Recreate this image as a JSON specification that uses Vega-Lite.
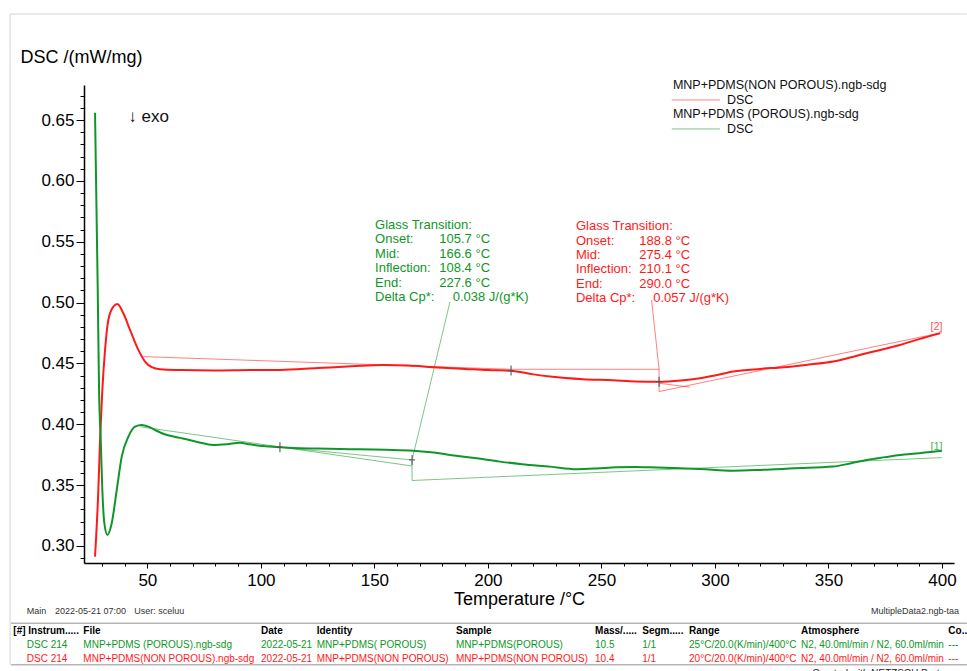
{
  "$schema": "https://vega.github.io/schema/vega-lite/v6.json",
  "width": 870,
  "height": 478,
  "autosize": {"type": "none"},
  "padding": {"left": 84, "top": 85, "right": 13, "bottom": 108},
  "background": "white",
  "config": {
    "font": "Liberation Sans",
    "view": {"stroke": null},
    "axis": {"labelFont": "Liberation Sans", "titleFont": "Liberation Sans", "labelColor": "black", "titleColor": "black", "tickColor": "black", "domainColor": "black", "grid": false}
  },
  "datasets": {
    "curves": [
      {"sample": "NON POROUS", "t": 26.96, "v": 0.2912},
      {"sample": "NON POROUS", "t": 28.42, "v": 0.346},
      {"sample": "NON POROUS", "t": 29.17, "v": 0.3871},
      {"sample": "NON POROUS", "t": 30.18, "v": 0.4282},
      {"sample": "NON POROUS", "t": 31.37, "v": 0.4611},
      {"sample": "NON POROUS", "t": 32.82, "v": 0.4857},
      {"sample": "NON POROUS", "t": 35.02, "v": 0.4966},
      {"sample": "NON POROUS", "t": 36.79, "v": 0.4989},
      {"sample": "NON POROUS", "t": 39.43, "v": 0.4912},
      {"sample": "NON POROUS", "t": 42.38, "v": 0.4775},
      {"sample": "NON POROUS", "t": 46.03, "v": 0.4611},
      {"sample": "NON POROUS", "t": 48.99, "v": 0.4515},
      {"sample": "NON POROUS", "t": 51.94, "v": 0.4469},
      {"sample": "NON POROUS", "t": 55.6, "v": 0.4452},
      {"sample": "NON POROUS", "t": 65, "v": 0.4445},
      {"sample": "NON POROUS", "t": 78.9, "v": 0.4441},
      {"sample": "NON POROUS", "t": 95.2, "v": 0.4445},
      {"sample": "NON POROUS", "t": 108.4, "v": 0.4446},
      {"sample": "NON POROUS", "t": 125, "v": 0.4462},
      {"sample": "NON POROUS", "t": 140, "v": 0.4476},
      {"sample": "NON POROUS", "t": 153.9, "v": 0.4487},
      {"sample": "NON POROUS", "t": 165, "v": 0.4482},
      {"sample": "NON POROUS", "t": 175.8, "v": 0.4469},
      {"sample": "NON POROUS", "t": 190, "v": 0.4455},
      {"sample": "NON POROUS", "t": 200, "v": 0.4445},
      {"sample": "NON POROUS", "t": 210, "v": 0.444},
      {"sample": "NON POROUS", "t": 220, "v": 0.441},
      {"sample": "NON POROUS", "t": 227.4, "v": 0.4392},
      {"sample": "NON POROUS", "t": 241.9, "v": 0.437},
      {"sample": "NON POROUS", "t": 255, "v": 0.4362},
      {"sample": "NON POROUS", "t": 265, "v": 0.4352},
      {"sample": "NON POROUS", "t": 275, "v": 0.435},
      {"sample": "NON POROUS", "t": 285, "v": 0.436},
      {"sample": "NON POROUS", "t": 293.4, "v": 0.4378},
      {"sample": "NON POROUS", "t": 300, "v": 0.44},
      {"sample": "NON POROUS", "t": 308.1, "v": 0.4433},
      {"sample": "NON POROUS", "t": 320, "v": 0.4455},
      {"sample": "NON POROUS", "t": 330.1, "v": 0.4469},
      {"sample": "NON POROUS", "t": 340, "v": 0.4488},
      {"sample": "NON POROUS", "t": 352.1, "v": 0.4515},
      {"sample": "NON POROUS", "t": 360, "v": 0.455},
      {"sample": "NON POROUS", "t": 366.8, "v": 0.4584},
      {"sample": "NON POROUS", "t": 375, "v": 0.462},
      {"sample": "NON POROUS", "t": 381.5, "v": 0.4652},
      {"sample": "NON POROUS", "t": 390, "v": 0.47},
      {"sample": "NON POROUS", "t": 399.1, "v": 0.4748},
      {"sample": "POROUS", "t": 26.96, "v": 0.656},
      {"sample": "POROUS", "t": 28.15, "v": 0.5104},
      {"sample": "POROUS", "t": 28.73, "v": 0.4282},
      {"sample": "POROUS", "t": 29.47, "v": 0.3871},
      {"sample": "POROUS", "t": 30.18, "v": 0.346},
      {"sample": "POROUS", "t": 31.06, "v": 0.3187},
      {"sample": "POROUS", "t": 32.38, "v": 0.3091},
      {"sample": "POROUS", "t": 34.31, "v": 0.3187},
      {"sample": "POROUS", "t": 36.52, "v": 0.346},
      {"sample": "POROUS", "t": 38.72, "v": 0.3734},
      {"sample": "POROUS", "t": 41.63, "v": 0.3898},
      {"sample": "POROUS", "t": 44.58, "v": 0.3981},
      {"sample": "POROUS", "t": 47.53, "v": 0.3994},
      {"sample": "POROUS", "t": 50.44, "v": 0.3981},
      {"sample": "POROUS", "t": 53.39, "v": 0.3953},
      {"sample": "POROUS", "t": 57, "v": 0.3922},
      {"sample": "POROUS", "t": 64.4, "v": 0.3888},
      {"sample": "POROUS", "t": 72, "v": 0.3855},
      {"sample": "POROUS", "t": 78.9, "v": 0.383},
      {"sample": "POROUS", "t": 85, "v": 0.3836},
      {"sample": "POROUS", "t": 90.8, "v": 0.3848},
      {"sample": "POROUS", "t": 95.2, "v": 0.3835},
      {"sample": "POROUS", "t": 108.4, "v": 0.3811},
      {"sample": "POROUS", "t": 125, "v": 0.38},
      {"sample": "POROUS", "t": 139.3, "v": 0.3795},
      {"sample": "POROUS", "t": 155, "v": 0.379},
      {"sample": "POROUS", "t": 167.1, "v": 0.3783},
      {"sample": "POROUS", "t": 175, "v": 0.377},
      {"sample": "POROUS", "t": 183.3, "v": 0.3748},
      {"sample": "POROUS", "t": 195, "v": 0.372},
      {"sample": "POROUS", "t": 205.3, "v": 0.3693},
      {"sample": "POROUS", "t": 215, "v": 0.3672},
      {"sample": "POROUS", "t": 227.4, "v": 0.3652},
      {"sample": "POROUS", "t": 239.1, "v": 0.3631},
      {"sample": "POROUS", "t": 248, "v": 0.3637},
      {"sample": "POROUS", "t": 256.7, "v": 0.3647},
      {"sample": "POROUS", "t": 265, "v": 0.3648},
      {"sample": "POROUS", "t": 271.4, "v": 0.3647},
      {"sample": "POROUS", "t": 282, "v": 0.364},
      {"sample": "POROUS", "t": 293.4, "v": 0.3633},
      {"sample": "POROUS", "t": 307.9, "v": 0.3619},
      {"sample": "POROUS", "t": 320, "v": 0.3625},
      {"sample": "POROUS", "t": 335, "v": 0.3638},
      {"sample": "POROUS", "t": 352, "v": 0.3652},
      {"sample": "POROUS", "t": 360, "v": 0.368},
      {"sample": "POROUS", "t": 367, "v": 0.3707},
      {"sample": "POROUS", "t": 375, "v": 0.373},
      {"sample": "POROUS", "t": 381.5, "v": 0.3748},
      {"sample": "POROUS", "t": 390, "v": 0.3762},
      {"sample": "POROUS", "t": 396, "v": 0.3775},
      {"sample": "POROUS", "t": 399.9, "v": 0.3783}
    ],
    "tangents": [
      {"sample": "NON POROUS", "t": 48.2, "v": 0.4556, "t2": 209.7, "v2": 0.4452},
      {"sample": "NON POROUS", "t": 209.7, "v": 0.4452, "t2": 275.4, "v2": 0.4452},
      {"sample": "NON POROUS", "t": 275.4, "v": 0.4452, "t2": 275.4, "v2": 0.4269},
      {"sample": "NON POROUS", "t": 275.4, "v": 0.4269, "t2": 400, "v2": 0.4753},
      {"sample": "NON POROUS", "t": 275.4, "v": 0.4337, "t2": 289, "v2": 0.4305},
      {"sample": "NON POROUS", "t": 272.1, "v": 0.5022, "t2": 275.4, "v2": 0.4452},
      {"sample": "POROUS", "t": 46.8, "v": 0.398, "t2": 166.6, "v2": 0.3657},
      {"sample": "POROUS", "t": 108.4, "v": 0.3811, "t2": 166.6, "v2": 0.3707},
      {"sample": "POROUS", "t": 166.6, "v": 0.3707, "t2": 166.6, "v2": 0.3538},
      {"sample": "POROUS", "t": 166.6, "v": 0.3538, "t2": 400, "v2": 0.3726},
      {"sample": "POROUS", "t": 183.3, "v": 0.5005, "t2": 166.6, "v2": 0.3707}
    ],
    "markers": [
      {"sample": "POROUS", "t": 108.4, "v": 0.3811},
      {"sample": "POROUS", "t": 166.6, "v": 0.3707},
      {"sample": "NON POROUS", "t": 210.2, "v": 0.4441},
      {"sample": "NON POROUS", "t": 275.4, "v": 0.435}
    ],
    "notes": [
      {"sample": "POROUS", "t": 150.3, "v": 0.5638, "text": "Glass Transition:"},
      {"sample": "POROUS", "t": 150.3, "v": 0.552, "text": "Onset:"},
      {"sample": "POROUS", "t": 150.3, "v": 0.5401, "text": "Mid:"},
      {"sample": "POROUS", "t": 150.3, "v": 0.5283, "text": "Inflection:"},
      {"sample": "POROUS", "t": 150.3, "v": 0.5165, "text": "End:"},
      {"sample": "POROUS", "t": 150.3, "v": 0.5046, "text": "Delta Cp*:"},
      {"sample": "POROUS", "t": 178.6, "v": 0.552, "text": "105.7 °C"},
      {"sample": "POROUS", "t": 178.6, "v": 0.5401, "text": "166.6 °C"},
      {"sample": "POROUS", "t": 178.6, "v": 0.5283, "text": "108.4 °C"},
      {"sample": "POROUS", "t": 178.6, "v": 0.5165, "text": "227.6 °C"},
      {"sample": "POROUS", "t": 184.5, "v": 0.5046, "text": "0.038 J/(g*K)"},
      {"sample": "NON POROUS", "t": 238.8, "v": 0.563, "text": "Glass Transition:"},
      {"sample": "NON POROUS", "t": 238.8, "v": 0.551, "text": "Onset:"},
      {"sample": "NON POROUS", "t": 238.8, "v": 0.5391, "text": "Mid:"},
      {"sample": "NON POROUS", "t": 238.8, "v": 0.5272, "text": "Inflection:"},
      {"sample": "NON POROUS", "t": 238.8, "v": 0.5153, "text": "End:"},
      {"sample": "NON POROUS", "t": 238.8, "v": 0.5034, "text": "Delta Cp*:"},
      {"sample": "NON POROUS", "t": 266.7, "v": 0.551, "text": "188.8 °C"},
      {"sample": "NON POROUS", "t": 266.7, "v": 0.5391, "text": "275.4 °C"},
      {"sample": "NON POROUS", "t": 266.7, "v": 0.5272, "text": "210.1 °C"},
      {"sample": "NON POROUS", "t": 266.7, "v": 0.5153, "text": "290.0 °C"},
      {"sample": "NON POROUS", "t": 272.8, "v": 0.5034, "text": "0.057 J/(g*K)"}
    ],
    "legendText": [
      {"t": 281.5, "v": 0.6788, "text": "MNP+PDMS(NON POROUS).ngb-sdg"},
      {"t": 305.3, "v": 0.6665, "text": "DSC"},
      {"t": 281.5, "v": 0.6552, "text": "MNP+PDMS (POROUS).ngb-sdg"},
      {"t": 305.3, "v": 0.6427, "text": "DSC"}
    ],
    "legendLines": [
      {"sample": "NON POROUS", "t": 281.0, "t2": 302.2, "v": 0.6665},
      {"sample": "POROUS", "t": 281.0, "t2": 302.2, "v": 0.6427}
    ],
    "curveTags": [
      {"sample": "NON POROUS", "t": 397.6, "v": 0.4797, "text": "[2]"},
      {"sample": "POROUS", "t": 397.6, "v": 0.3816, "text": "[1]"}
    ],
    "exo": [
      {"t": 41.6, "v": 0.6528, "text": "↓ exo"}
    ],
    "frame": [
      {"t": -10.47, "v": 0.7371, "t2": 411, "v2": 0.7371},
      {"t": -10.47, "v": 0.7371, "t2": -10.47, "v2": 0.2023}
    ],
    "tableLines": [
      {"t": -10.03, "v": 0.2365, "t2": 411, "v2": 0.2365},
      {"t": -10.03, "v": 0.2023, "t2": 411, "v2": 0.2023}
    ],
    "tableHeader": [
      {"t": -9.02, "v": 0.2302, "text": "[#] Instrum....."},
      {"t": 21.81, "v": 0.2302, "text": "File"},
      {"t": 100.07, "v": 0.2302, "text": "Date"},
      {"t": 124.6, "v": 0.2302, "text": "Identity"},
      {"t": 185.95, "v": 0.2302, "text": "Sample"},
      {"t": 247.2, "v": 0.2302, "text": "Mass/....."},
      {"t": 268.0, "v": 0.2302, "text": "Segm....."},
      {"t": 288.6, "v": 0.2302, "text": "Range"},
      {"t": 337.9, "v": 0.2302, "text": "Atmosphere"},
      {"t": 402.8, "v": 0.2302, "text": "Co.."}
    ],
    "tableRows": [
      {"sample": "POROUS", "t": -3.12, "v": 0.2187, "text": "DSC 214"},
      {"sample": "POROUS", "t": 21.81, "v": 0.2187, "text": "MNP+PDMS (POROUS).ngb-sdg"},
      {"sample": "POROUS", "t": 100.07, "v": 0.2187, "text": "2022-05-21"},
      {"sample": "POROUS", "t": 124.6, "v": 0.2187, "text": "MNP+PDMS( POROUS)"},
      {"sample": "POROUS", "t": 185.95, "v": 0.2187, "text": "MNP+PDMS(POROUS)"},
      {"sample": "POROUS", "t": 247.2, "v": 0.2187, "text": "10.5"},
      {"sample": "POROUS", "t": 268.0, "v": 0.2187, "text": "1/1"},
      {"sample": "POROUS", "t": 288.6, "v": 0.2187, "text": "25°C/20.0(K/min)/400°C"},
      {"sample": "POROUS", "t": 337.9, "v": 0.2187, "text": "N2, 40.0ml/min / N2, 60.0ml/min"},
      {"sample": "POROUS", "t": 402.8, "v": 0.2187, "text": "---"},
      {"sample": "NON POROUS", "t": -3.12, "v": 0.2072, "text": "DSC 214"},
      {"sample": "NON POROUS", "t": 21.81, "v": 0.2072, "text": "MNP+PDMS(NON POROUS).ngb-sdg"},
      {"sample": "NON POROUS", "t": 100.07, "v": 0.2072, "text": "2022-05-21"},
      {"sample": "NON POROUS", "t": 124.6, "v": 0.2072, "text": "MNP+PDMS(NON POROUS)"},
      {"sample": "NON POROUS", "t": 185.95, "v": 0.2072, "text": "MNP+PDMS(NON POROUS)"},
      {"sample": "NON POROUS", "t": 247.2, "v": 0.2072, "text": "10.4"},
      {"sample": "NON POROUS", "t": 268.0, "v": 0.2072, "text": "1/1"},
      {"sample": "NON POROUS", "t": 288.6, "v": 0.2072, "text": "20°C/20.0(K/min)/400°C"},
      {"sample": "NON POROUS", "t": 337.9, "v": 0.2072, "text": "N2, 40.0ml/min / N2, 60.0ml/min"},
      {"sample": "NON POROUS", "t": 402.8, "v": 0.2072, "text": "---"}
    ],
    "metaLeft": [
      {"t": -3.12, "v": 0.2469, "text": "Main"},
      {"t": 9.35, "v": 0.2469, "text": "2022-05-21 07:00"},
      {"t": 44.27, "v": 0.2469, "text": "User: sceluu"}
    ],
    "metaRight": [
      {"t": 407.5, "v": 0.2469, "text": "MultipleData2.ngb-taa"}
    ],
    "footer": [
      {"t": 342.6, "v": 0.1949, "text": "Created with NETZSCH Proteus software"}
    ]
  },
  "resolve": {"axis": {"x": "independent", "y": "independent"}},
  "layer": [
    {
      "data": {"name": "frame"},
      "mark": {"type": "rule", "color": "#d4d4d4", "strokeWidth": 1},
      "encoding": {
        "x": {"field": "t", "type": "quantitative", "axis": null},
        "x2": {"field": "t2"},
        "y": {"field": "v", "type": "quantitative", "axis": null},
        "y2": {"field": "v2"}
      }
    },
    {
      "data": {"name": "tableLines"},
      "mark": {"type": "rule", "color": "#b5b5b5", "strokeWidth": 1.5},
      "encoding": {
        "x": {"field": "t", "type": "quantitative", "axis": null},
        "x2": {"field": "t2"},
        "y": {"field": "v", "type": "quantitative", "axis": null},
        "y2": {"field": "v2"}
      }
    },
    {
      "data": {"name": "tangents"},
      "mark": {"type": "rule", "strokeWidth": 1, "opacity": 0.55},
      "encoding": {
        "x": {"field": "t", "type": "quantitative", "axis": null},
        "x2": {"field": "t2"},
        "y": {"field": "v", "type": "quantitative", "axis": null},
        "y2": {"field": "v2"},
        "color": {"field": "sample", "type": "nominal", "legend": null}
      }
    },
    {
      "data": {"name": "curves"},
      "transform": [{"filter": "datum.sample === 'NON POROUS'"}],
      "mark": {"type": "line", "strokeWidth": 2, "interpolate": "monotone"},
      "encoding": {
        "x": {
          "field": "t", "type": "quantitative",
          "scale": {"domain": [22.1, 405.3], "nice": false, "zero": false},
          "axis": {
            "orient": "bottom", "values": [50, 100, 150, 200, 250, 300, 350, 400],
            "tickSize": 5, "labelFontSize": 17, "labelPadding": 4, "labelFlush": false, "labelOverlap": false,
            "domainWidth": 1.5, "title": "Temperature /°C", "titleFontSize": 18, "titleFontWeight": "normal", "titlePadding": 2
          }
        },
        "y": {
          "field": "v", "type": "quantitative",
          "scale": {"domain": [0.286, 0.6788], "nice": false, "zero": false},
          "axis": {
            "orient": "left", "values": [0.3, 0.35, 0.4, 0.45, 0.5, 0.55, 0.6, 0.65], "format": ".2f",
            "tickSize": 8, "labelFontSize": 17, "labelPadding": 2, "labelFlush": false, "labelOverlap": false,
            "domainWidth": 1.5, "title": "DSC /(mW/mg)", "titleFontSize": 18, "titleFontWeight": "normal",
            "titleAngle": 0, "titleAlign": "left", "titleBaseline": "middle", "titleX": -64, "titleY": -28
          }
        },
        "color": {
          "field": "sample", "type": "nominal",
          "scale": {"domain": ["NON POROUS", "POROUS"], "range": ["#ff1a1a", "#0f9628"]},
          "legend": null
        }
      }
    },
    {
      "data": {"name": "curves"},
      "transform": [{"filter": "datum.sample === 'POROUS'"}],
      "mark": {"type": "line", "strokeWidth": 2, "interpolate": "monotone"},
      "encoding": {
        "x": {
          "field": "t", "type": "quantitative",
          "axis": {
            "orient": "bottom",
            "values": [30, 40, 50, 60, 70, 80, 90, 100, 110, 120, 130, 140, 150, 160, 170, 180, 190, 200, 210, 220, 230, 240, 250, 260, 270, 280, 290, 300, 310, 320, 330, 340, 350, 360, 370, 380, 390, 400],
            "tickSize": 3, "labels": false, "domain": false, "title": null
          }
        },
        "y": {
          "field": "v", "type": "quantitative",
          "axis": {
            "orient": "left",
            "values": [0.29, 0.3, 0.31, 0.32, 0.33, 0.34, 0.35, 0.36, 0.37, 0.38, 0.39, 0.4, 0.41, 0.42, 0.43, 0.44, 0.45, 0.46, 0.47, 0.48, 0.49, 0.5, 0.51, 0.52, 0.53, 0.54, 0.55, 0.56, 0.57, 0.58, 0.59, 0.6, 0.61, 0.62, 0.63, 0.64, 0.65, 0.66, 0.67],
            "tickSize": 4, "labels": false, "domain": false, "title": null
          }
        },
        "color": {"field": "sample", "type": "nominal", "legend": null}
      }
    },
    {
      "data": {"name": "markers"},
      "mark": {"type": "point", "shape": "M0,-1L0,1M-0.6,0L0.6,0", "filled": false, "size": 100, "strokeWidth": 1.2, "color": "#555555", "opacity": 0.9},
      "encoding": {
        "x": {"field": "t", "type": "quantitative", "axis": null},
        "y": {"field": "v", "type": "quantitative", "axis": null}
      }
    },
    {
      "data": {"name": "legendLines"},
      "mark": {"type": "rule", "strokeWidth": 1, "opacity": 0.55},
      "encoding": {
        "x": {"field": "t", "type": "quantitative", "axis": null},
        "x2": {"field": "t2"},
        "y": {"field": "v", "type": "quantitative", "axis": null},
        "color": {"field": "sample", "type": "nominal", "legend": null}
      }
    },
    {
      "data": {"name": "notes"},
      "mark": {"type": "text", "align": "left", "baseline": "middle", "fontSize": 13, "font": "Liberation Sans"},
      "encoding": {
        "x": {"field": "t", "type": "quantitative", "axis": null},
        "y": {"field": "v", "type": "quantitative", "axis": null},
        "text": {"field": "text"},
        "color": {"field": "sample", "type": "nominal", "legend": null}
      }
    },
    {
      "data": {"name": "legendText"},
      "mark": {"type": "text", "align": "left", "baseline": "middle", "fontSize": 12.5, "font": "Liberation Sans", "color": "#111111"},
      "encoding": {
        "x": {"field": "t", "type": "quantitative", "axis": null},
        "y": {"field": "v", "type": "quantitative", "axis": null},
        "text": {"field": "text"}
      }
    },
    {
      "data": {"name": "curveTags"},
      "mark": {"type": "text", "align": "center", "baseline": "middle", "fontSize": 11, "font": "Liberation Sans", "opacity": 0.75},
      "encoding": {
        "x": {"field": "t", "type": "quantitative", "axis": null},
        "y": {"field": "v", "type": "quantitative", "axis": null},
        "text": {"field": "text"},
        "color": {"field": "sample", "type": "nominal", "legend": null}
      }
    },
    {
      "data": {"name": "exo"},
      "mark": {"type": "text", "align": "left", "baseline": "middle", "fontSize": 17, "font": "Liberation Sans", "color": "#111111"},
      "encoding": {
        "x": {"field": "t", "type": "quantitative", "axis": null},
        "y": {"field": "v", "type": "quantitative", "axis": null},
        "text": {"field": "text"}
      }
    },
    {
      "data": {"name": "tableHeader"},
      "mark": {"type": "text", "align": "left", "baseline": "middle", "fontSize": 10, "fontWeight": "bold", "font": "Liberation Sans", "color": "#000000"},
      "encoding": {
        "x": {"field": "t", "type": "quantitative", "axis": null},
        "y": {"field": "v", "type": "quantitative", "axis": null},
        "text": {"field": "text"}
      }
    },
    {
      "data": {"name": "tableRows"},
      "mark": {"type": "text", "align": "left", "baseline": "middle", "fontSize": 10, "font": "Liberation Sans"},
      "encoding": {
        "x": {"field": "t", "type": "quantitative", "axis": null},
        "y": {"field": "v", "type": "quantitative", "axis": null},
        "text": {"field": "text"},
        "color": {"field": "sample", "type": "nominal", "legend": null}
      }
    },
    {
      "data": {"name": "metaLeft"},
      "mark": {"type": "text", "align": "left", "baseline": "middle", "fontSize": 9, "font": "Liberation Sans", "color": "#333333"},
      "encoding": {
        "x": {"field": "t", "type": "quantitative", "axis": null},
        "y": {"field": "v", "type": "quantitative", "axis": null},
        "text": {"field": "text"}
      }
    },
    {
      "data": {"name": "metaRight"},
      "mark": {"type": "text", "align": "right", "baseline": "middle", "fontSize": 9, "font": "Liberation Sans", "color": "#333333"},
      "encoding": {
        "x": {"field": "t", "type": "quantitative", "axis": null},
        "y": {"field": "v", "type": "quantitative", "axis": null},
        "text": {"field": "text"}
      }
    },
    {
      "data": {"name": "footer"},
      "mark": {"type": "text", "align": "left", "baseline": "middle", "fontSize": 10, "fontStyle": "italic", "font": "Liberation Sans", "color": "#222222"},
      "encoding": {
        "x": {"field": "t", "type": "quantitative", "axis": null},
        "y": {"field": "v", "type": "quantitative", "axis": null},
        "text": {"field": "text"}
      }
    }
  ]
}
